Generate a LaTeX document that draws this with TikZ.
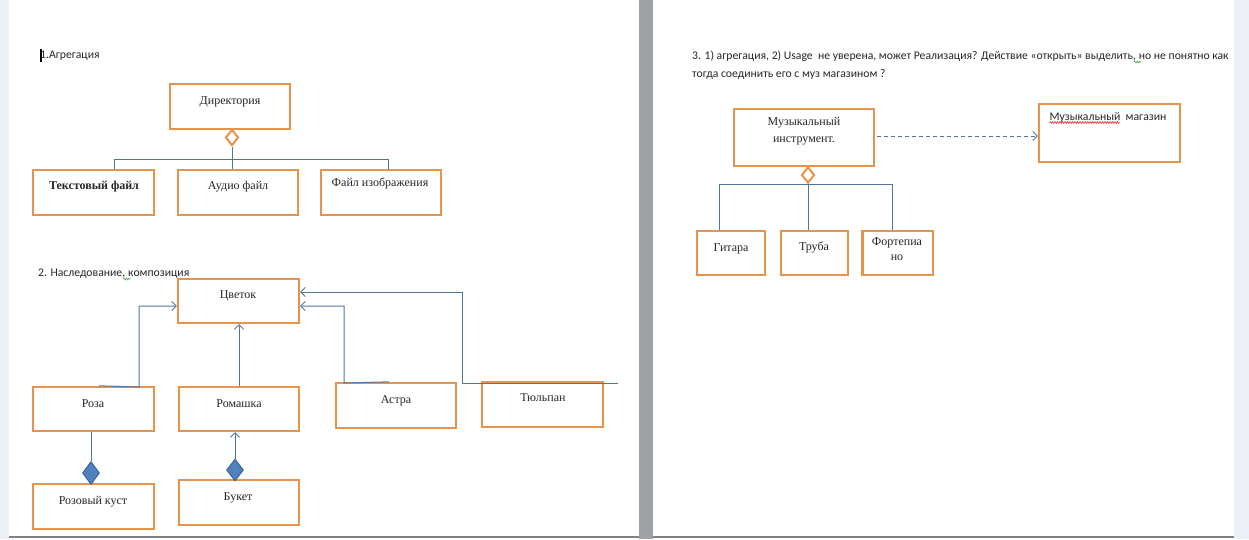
\documentclass[tikz,border=0pt]{standalone}
\usepackage{fontspec}
\setmainfont{Liberation Serif}
\newfontfamily\calib{Carlito}
\usetikzlibrary{arrows.meta,shapes.geometric,decorations.pathmorphing}
\definecolor{boxor}{RGB}{230,148,76}
\definecolor{lnblue}{RGB}{84,118,158}
\definecolor{dfill}{RGB}{79,129,189}
\definecolor{dedge}{RGB}{56,93,138}
\definecolor{sidebg}{RGB}{236,241,249}
\definecolor{barg}{RGB}{158,161,166}
\definecolor{spgreen}{RGB}{60,170,60}
\definecolor{spred}{RGB}{220,40,40}
\begin{document}
\begin{tikzpicture}[x=1pt,y=-1pt,
  font=\fontsize{12pt}{13pt}\selectfont,
  bx/.style={draw=boxor,line width=2.4pt,fill=white,inner sep=0pt},
  lbl/.style={inner sep=0pt,anchor=center,text=black!85},
  hdr/.style={inner sep=0pt,anchor=base west,font=\calib\fontsize{11.7pt}{18pt}\selectfont,text=black!85},
  conn/.style={draw=lnblue,line width=1pt},
  arr/.style={conn,-{Straight Barb[length=4.5pt,width=9pt,line width=0.9pt]}},
  odia/.style={diamond,draw=boxor,line width=2pt,fill=white,inner sep=0pt,minimum width=13pt,minimum height=16pt},
  fdia/.style={diamond,draw=dedge,line width=0.8pt,fill=dfill,inner sep=0pt,minimum width=17pt,minimum height=23pt},
  squig/.style={decorate,decoration={zigzag,amplitude=0.9pt,segment length=2.5pt},line width=0.6pt}
]
\useasboundingbox (0,0) rectangle (1249,539);
% page background
\fill[white] (0,0) rectangle (1249,539);
\fill[sidebg] (0,0) rectangle (9,539);
\fill[sidebg] (1234,0) rectangle (1249,539);
\fill[barg] (639,0) rectangle (653,539);
\fill[black!50] (9,536.3) rectangle (639,538);
\fill[black!50] (653,536.3) rectangle (1234,538);

% ---------- Section 1 ----------
\fill[black] (40,49) rectangle (41.5,62);
\node[hdr] (h1) at (40,58.5) {1.Агрегация};

\node[bx,minimum width=120pt,minimum height=45pt] (dir) at (230,106.5) {};
\node[lbl] at (230,102) {Директория};
\node[bx,minimum width=121pt,minimum height=45pt] (tf) at (93.5,192.5) {};
\node[lbl,font=\bfseries\fontsize{12pt}{13pt}\selectfont] at (94,187) {Текстовый файл};
\node[bx,minimum width=120pt,minimum height=45pt] (af) at (238,192.5) {};
\node[lbl] at (238,187) {Аудио файл};
\node[bx,minimum width=120pt,minimum height=45pt] (fi) at (381,192.5) {};
\node[lbl] at (380,183) {Файл изображения};

\node[odia] (d1) at (232,137.5) {};
\coordinate (j1) at (232,159);
\draw[conn] (d1.south) -- (j1);
\draw[conn] (j1) -| ([xshift=20.5pt]tf.north);
\draw[conn] (j1) -| ([xshift=-6pt]af.north);
\draw[conn] (j1) -| ([xshift=7pt]fi.north);

% ---------- Section 2 ----------
\node[hdr] (h2) at (38,276) {2. Наследование,};
\node[hdr] (h2b) at (h2.base east) {\ композиция};
\draw[spgreen,squig] ([xshift=-2pt,yshift=-3pt]h2.base east) -- ([xshift=5pt,yshift=-3pt]h2.base east);

\node[bx,minimum width=121pt,minimum height=44pt] (cv) at (238.5,301) {};
\node[lbl] at (238,296) {Цветок};
\node[bx,minimum width=121pt,minimum height=44pt] (roza) at (93.5,409) {};
\node[lbl] at (93,404) {Роза};
\node[bx,minimum width=120pt,minimum height=44pt] (rom) at (239,409) {};
\node[lbl] at (239,404) {Ромашка};
\node[bx,minimum width=120pt,minimum height=45pt] (astra) at (396,405.5) {};
\node[lbl] at (396,401) {Астра};
\node[bx,minimum width=121pt,minimum height=45pt] (tul) at (542.5,404.5) {};
\node[lbl] at (543,398) {Тюльпан};
\node[bx,minimum width=121pt,minimum height=45pt] (rk) at (93.5,506.5) {};
\node[lbl] at (93,502) {Розовый куст};
\node[bx,minimum width=120pt,minimum height=45pt] (buk) at (239,502.5) {};
\node[lbl] at (238,498) {Букет};

\coordinate (r1) at (139,387);
\draw[arr] ([xshift=5.5pt]roza.north) -- (r1) |- ([yshift=-5pt]cv.west);
\draw[arr] (rom.north) -- (rom.north |- cv.south);
\coordinate (a1) at (344,383);
\draw[arr] ([xshift=-7pt]astra.north) -- (a1) |- ([yshift=-5pt]cv.east);
\coordinate (t0) at (618,383.5);
\coordinate (t1) at (462,383.5);
\draw[arr] (t0) -- (t1) |- ([yshift=9pt]cv.east);

\node[fdia] (dk1) at (91,473) {};
\draw[conn] (dk1.north) -- (dk1.north |- roza.south);
\node[fdia,minimum height=22pt] (dk2) at (235,470) {};
\draw[arr] (dk2.north) -- (dk2.north |- rom.south);

% ---------- Section 3 ----------
\node[hdr] (h3) at (692,59) {3. 1) агрегация, 2) Usage\ \ не уверена, может Реализация? Действие «открыть» выделить,};
\node[hdr] (h3c) at (h3.base east) {\ но не понятно как};
\draw[spgreen,squig] ([xshift=-2pt,yshift=-3pt]h3.base east) -- ([xshift=5pt,yshift=-3pt]h3.base east);
\node[hdr] (h3b) at (692,77) {тогда соединить его с муз магазином ?};

\node[bx,minimum width=140pt,minimum height=57pt] (mi) at (804,137.5) {};
\node[lbl,align=center,font=\fontsize{12pt}{17pt}\selectfont] at (804,131.5) {Музыкальный\\инструмент.};
\node[bx,minimum width=141pt,minimum height=58pt] (mm) at (1109.5,133) {};
\node[lbl,font=\calib\fontsize{11.7pt}{13pt}\selectfont] (mmt) at (1108,117) {Музыкальный\ \ магазин};
\draw[spred,squig] ([yshift=-5.5pt]mmt.west) -- ([xshift=70pt,yshift=-5.5pt]mmt.west);

\draw[conn,dashed,dash pattern=on 4pt off 3pt,-{Straight Barb[length=4.5pt,width=9pt,line width=0.9pt]}] ([xshift=2pt,yshift=1.5pt]mi.east) -- ([yshift=1.5pt]mi.east -| mm.west);

\node[bx,minimum width=68pt,minimum height=44pt] (git) at (731,253) {};
\node[lbl] at (731,249) {Гитара};
\node[bx,minimum width=67pt,minimum height=44pt] (tr) at (814.5,253) {};
\node[lbl] at (814,247) {Труба};
\node[bx,minimum width=70.5pt,minimum height=44pt] (fp) at (897.75,253) {};
\node[lbl,align=center,font=\fontsize{12pt}{15pt}\selectfont] at (897,249.5) {Фортепиа\\но};

\node[odia] (d3) at (808,175) {};
\draw[conn] (d3.south) -| ([xshift=-12pt]git.north);
\draw[conn] (d3.south) -| ([xshift=-6.5pt]tr.north);
\draw[conn] (d3.south) -| ([xshift=-5.75pt]fp.north);
\end{tikzpicture}
\end{document}
